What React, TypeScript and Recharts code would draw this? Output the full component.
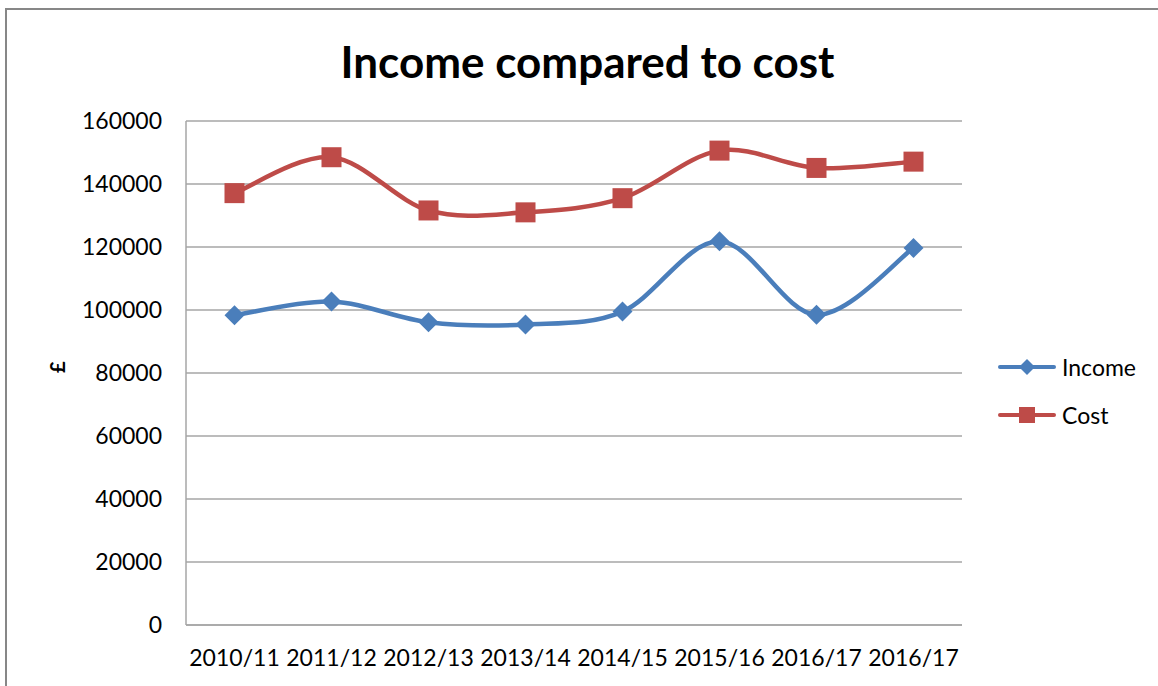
import { CartesianGrid, Line, LineChart, XAxis, YAxis } from 'recharts';

const years = ['2010/11', '2011/12', '2012/13', '2013/14', '2014/15', '2015/16', '2016/17', '2016/17'];
const income = [98300, 102700, 96100, 95400, 99500, 121800, 98500, 119700];
const cost = [137100, 148500, 131600, 131000, 135500, 150600, 145100, 147100];
const yTicks = [0, 20000, 40000, 60000, 80000, 100000, 120000, 140000, 160000];

const data = years.map((year, i) => ({ year, Income: income[i], Cost: cost[i] }));

const BLUE = '#4a7ebb';
const RED = '#be4b48';
const GRID = '#a6a6a6';
const FONT = 'Lato, "Open Sans", sans-serif';

// Excel-style smoothed line (Catmull-Rom as bezier)
const excelSmooth = (context: any) => {
  let pts: number[][] = [];
  return {
    areaStart() {},
    areaEnd() {},
    lineStart() {
      pts = [];
    },
    point(x: number, y: number) {
      pts.push([+x, +y]);
    },
    lineEnd() {
      if (!pts.length) return;
      context.moveTo(pts[0][0], pts[0][1]);
      for (let i = 0; i < pts.length - 1; i++) {
        const p0 = pts[i - 1] || pts[i];
        const p1 = pts[i];
        const p2 = pts[i + 1];
        const p3 = pts[i + 2] || p2;
        context.bezierCurveTo(
          p1[0] + (p2[0] - p0[0]) / 6,
          p1[1] + (p2[1] - p0[1]) / 6,
          p2[0] - (p3[0] - p1[0]) / 6,
          p2[1] - (p3[1] - p1[1]) / 6,
          p2[0],
          p2[1],
        );
      }
    },
  };
};

const Diamond = ({ cx, cy, r = 10, fill = BLUE }: any) => (
  <polygon points={`${cx},${cy - r} ${cx + r},${cy} ${cx},${cy + r} ${cx - r},${cy}`} fill={fill} />
);

const Square = ({ cx, cy, r = 10, fill = RED }: any) => (
  <rect x={cx - r} y={cy - r} width={r * 2} height={r * 2} fill={fill} />
);

function LegendBox() {
  const items = [
    { name: 'Income', color: BLUE, marker: 'diamond' },
    { name: 'Cost', color: RED, marker: 'square' },
  ];
  return (
    <div style={{ fontFamily: FONT, fontSize: 23, color: '#000' }}>
      {items.map((it) => (
        <div key={it.name} style={{ display: 'flex', alignItems: 'center', height: 48 }}>
          <svg width={60} height={20} style={{ marginRight: 4 }}>
            <line x1={2} y1={10} x2={56} y2={10} stroke={it.color} strokeWidth={4} strokeLinecap="round" />
            {it.marker === 'diamond' ? (
              <Diamond cx={29} cy={10} r={8} fill={it.color} />
            ) : (
              <Square cx={29} cy={10} r={8} fill={it.color} />
            )}
          </svg>
          <span>{it.name}</span>
        </div>
      ))}
    </div>
  );
}

export default function App() {
  return (
    <div style={{ position: 'relative', width: 1158, height: 686, background: '#fff', overflow: 'hidden' }}>
      <style>{'body{margin:0}'}</style>
      <div
        style={{
          position: 'absolute',
          left: 5,
          top: 8,
          width: 1200,
          height: 700,
          borderLeft: '2px solid #878787',
          borderTop: '2px solid #878787',
        }}
      />
      <div
        style={{
          position: 'absolute',
          left: 0,
          width: 1175,
          top: 35,
          textAlign: 'center',
          fontFamily: FONT,
          fontWeight: 'bold',
          fontSize: 44,
          color: '#000',
          lineHeight: '52px',
        }}
      >
        Income compared to cost
      </div>
      <div style={{ position: 'absolute', left: 0, top: 0 }}>
        <LineChart width={1158} height={686} data={data} margin={{ top: 121, right: 196, left: 40, bottom: 21 }}>
          <CartesianGrid stroke={GRID} strokeWidth={1.5} vertical={false} />
          <XAxis
            dataKey="year"
            axisLine={{ stroke: GRID, strokeWidth: 1.5 }}
            tickLine={false}
            tickSize={0}
            tickMargin={25}
            tick={{ fill: '#000', fontSize: 23, fontFamily: FONT }}
            interval={0}
            height={40}
            padding={{ left: 48.5, right: 48.5 }}
          />
          <YAxis
            width={146}
            domain={[0, 160000]}
            ticks={yTicks}
            axisLine={{ stroke: GRID, strokeWidth: 1.5 }}
            tickLine={false}
            tickSize={0}
            tickMargin={24}
            tick={{ fill: '#000', fontSize: 23, fontFamily: FONT }}
            label={{
              value: '£',
              angle: -90,
              position: 'insideLeft',
              offset: 18,
              style: { fontFamily: FONT, fontWeight: 'bold', fontSize: 20, fill: '#000' },
            }}
          />
          <Line
            dataKey="Income"
            type={excelSmooth as any}
            stroke={BLUE}
            strokeWidth={4.5}
            dot={(p: any) => <Diamond key={`i${p.index}`} cx={p.cx} cy={p.cy} r={10} />}
            activeDot={false}
            isAnimationActive={false}
          />
          <Line
            dataKey="Cost"
            type={excelSmooth as any}
            stroke={RED}
            strokeWidth={4.5}
            dot={(p: any) => <Square key={`c${p.index}`} cx={p.cx} cy={p.cy} r={10} />}
            activeDot={false}
            isAnimationActive={false}
          />
        </LineChart>
      </div>
      <div style={{ position: 'absolute', left: 998, top: 343 }}>
        <LegendBox />
      </div>
    </div>
  );
}
